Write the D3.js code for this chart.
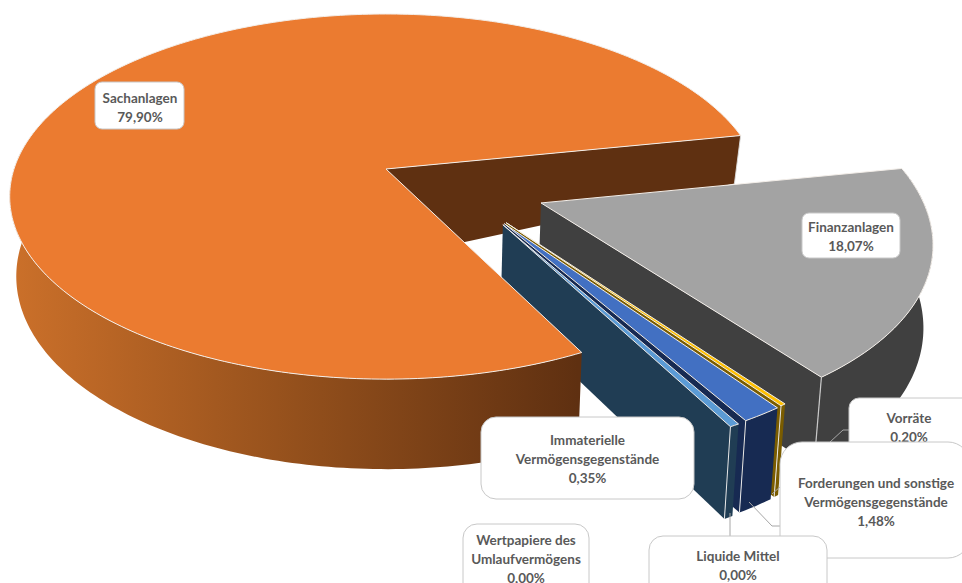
<!DOCTYPE html>
<html>
<head>
<meta charset="utf-8">
<script src="https://cdn.jsdelivr.net/npm/d3@7"></script>
<style>
  html, body { margin: 0; padding: 0; background: #fff; overflow: hidden; }
  svg { display: block; }
  text { font-family: Lato, "Open Sans", sans-serif; font-weight: 700; font-size: 13.5px; fill: #595959; text-anchor: middle; dominant-baseline: central; }
</style>
</head>
<body>
<svg id="chart" width="962" height="583"></svg>
<script>
// Chart data
const categories = ['Immaterielle Vermögensgegenstände', 'Sachanlagen', 'Finanzanlagen', 'Vorräte',
  'Forderungen und sonstige Vermögensgegenstände', 'Liquide Mittel', 'Wertpapiere des Umlaufvermögens'];
const shares = [0.35, 79.90, 18.07, 0.20, 1.48, 0.00, 0.00];
const topColors = ['#5B9BD5', '#EB7B30', '#A3A3A3', '#FFC000', '#4270C2', '#70AD47', '#264478'];
const sideColors = ['#203D54', '#5F3011', '#404040', '#7A5C00', '#172A52', '#38572A', '#13233C'];

// ── Perspective of the 3D pie ──────────────────────────────────────────────
const cx = 386, cy = 169;
const radiusX = 372, radiusY = 178.4, persp = 0.151, converge = 0.0175;
const padDeg = 0.3;
// how far each slice is pulled out of the pie, in pie radii
const sliceOffset = {
  'Sachanlagen': [0, 0],
  'Finanzanlagen': [0.405, 0.185],
  'Vorräte': [0.309, 0.288],
  'Forderungen und sonstige Vermögensgegenstände': [0.304, 0.293],
  'default': [0.30, 0.298],
};

const project = ([X, Y]) => {
  const w = 1 - persp * Y;
  return [cx + radiusX * X / w, cy + radiusY * Y / w];
};
// point on the bottom face, below a top face point
const drop = ([x, y], depth) => [x - converge * (x - cx), y + depth];
const depthAt = (Y) => 78 + 12 * Y;

const toRad = (deg) => deg * Math.PI / 180;
const pie = d3.pie().sort(null).value((d) => d)
  .padAngle(toRad(padDeg))
  .startAngle(toRad(151.2))
  .endAngle(toRad(151.2 + 360));

const svg = d3.select('#chart');
const line = d3.line();
const closed = (pts) => line(pts) + 'Z';

const gradient = svg.append('defs').append('linearGradient')
  .attr('id', 'sachWall').attr('gradientUnits', 'userSpaceOnUse')
  .attr('x1', 12).attr('x2', 578).attr('y1', 0).attr('y2', 0);
gradient.append('stop').attr('offset', 0).attr('stop-color', '#CB702A');
gradient.append('stop').attr('offset', 0.5).attr('stop-color', '#94501C');
gradient.append('stop').attr('offset', 1).attr('stop-color', '#5F3011');

const slices = pie(shares).map((arc, i) => {
  const offset = sliceOffset[categories[i]] || sliceOffset.default;
  const a0 = arc.startAngle + arc.padAngle / 2;
  const a1 = arc.endAngle - arc.padAngle / 2;
  return { i, name: categories[i], a0, a1, offset, top: topColors[i], side: sideColors[i] };
});

// d3.pie angle: 0 at the back, clockwise seen from above
const world = (s, angle) => [s.offset[0] + Math.sin(angle), s.offset[1] - Math.cos(angle)];
const rimPoints = (s, from, to) => {
  const n = Math.max(2, Math.ceil(Math.abs(to - from) / toRad(1)));
  return d3.range(n + 1).map((k) => world(s, from + (to - from) * k / n));
};
const onFloor = (p) => drop(project(p), depthAt(p[1]));

function drawInnerWall(s, angle, rimDepth, apexDepth) {
  const apex = project(s.offset);
  const rimW = world(s, angle);
  const rim = project(rimW);
  svg.append('path')
    .attr('d', closed([apex, rim, drop(rim, rimDepth ?? depthAt(rimW[1])), drop(apex, apexDepth ?? depthAt(s.offset[1]))]))
    .attr('fill', s.side);
}

function drawCorner(s, angle, rimDepth, color, width) {
  const rimW = world(s, angle);
  const rim = project(rimW);
  svg.append('path').attr('d', line([rim, drop(rim, rimDepth ?? depthAt(rimW[1]))]))
    .attr('stroke', color).attr('stroke-width', width).attr('fill', 'none');
}

function drawOuterWall(s, fill) {
  // only the front part of the rim shows a wall, angles may run past one turn
  const turn = s.a0 >= toRad(360) - toRad(1) ? toRad(360) : 0;
  const from = Math.max(s.a0, toRad(81) + turn);
  const to = Math.min(s.a1, toRad(278) + turn);
  const rim = rimPoints(s, from, to);
  svg.append('path')
    .attr('d', closed([...rim.map(project), ...rim.slice().reverse().map(onFloor)]))
    .attr('fill', fill);
}

function drawTop(s) {
  const pts = [s.offset, ...rimPoints(s, s.a0, s.a1)].map(project);
  svg.append('path').attr('d', closed(pts))
    .attr('fill', s.top).attr('stroke', '#f3eee9').attr('stroke-width', 1).attr('stroke-linejoin', 'round');
}

const sach = slices.find((s) => s.name === 'Sachanlagen');
const fin = slices.find((s) => s.name === 'Finanzanlagen');
const order = ['Vorräte', 'Forderungen und sonstige Vermögensgegenstände', 'Liquide Mittel',
  'Wertpapiere des Umlaufvermögens', 'Immaterielle Vermögensgegenstände'];

// ── Back to front ──────────────────────────────────────────────────────────
drawInnerWall(sach, sach.a1, 48, 90);
drawCorner(sach, sach.a1, 48, '#dcdcdc', 0.9);

drawOuterWall(fin, fin.side);
drawInnerWall(fin, fin.a1);
drawCorner(fin, fin.a1, undefined, '#c9c9c9', 1.2);
drawTop(fin);

order.forEach((name) => {
  const s = slices.find((d) => d.name === name);
  if (s.a1 - s.a0 < 1e-6) return;
  drawOuterWall(s, s.side);
  drawInnerWall(s, s.a1);
  drawCorner(s, s.a1, undefined, '#e8e8e8', 1);
  drawTop(s);
});

drawOuterWall(sach, 'url(#sachWall)');
drawTop(sach);

// ── Labels ─────────────────────────────────────────────────────────────────
const percent = (v) => v.toFixed(2).replace('.', ',') + '%';

const leaders = [
  [[830, 442], [843, 430], [849, 430]],
  [[772, 494], [780, 487]],
  [[749, 502], [772, 526], [780, 526]],
  [[730, 513], [730, 536]],
];
leaders.forEach((pts) => {
  svg.append('path').attr('d', line(pts)).attr('fill', 'none')
    .attr('stroke', '#a6a6a6').attr('stroke-width', 1);
});

const labelBoxes = [
  { name: 'Sachanlagen', lines: ['Sachanlagen'], x: 95, y: 82, w: 89, h: 47, r: 7, tx: 140, ty: 98 },
  { name: 'Finanzanlagen', lines: ['Finanzanlagen'], x: 802, y: 213, w: 98, h: 45, r: 7, tx: 851, ty: 227 },
  { name: 'Immaterielle Vermögensgegenstände', lines: ['Immaterielle', 'Vermögensgegenstände'], x: 481, y: 417, w: 213, h: 82, r: 15, tx: 587.5, ty: 440 },
  { name: 'Vorräte', lines: ['Vorräte'], x: 849, y: 398, w: 140, h: 70, r: 10, tx: 909, ty: 418 },
  { name: 'Forderungen und sonstige Vermögensgegenstände', lines: ['Forderungen und sonstige', 'Vermögensgegenstände'], x: 780, y: 442, w: 190, h: 116, r: 22, tx: 876, ty: 482.5 },
  { name: 'Wertpapiere des Umlaufvermögens', lines: ['Wertpapiere des', 'Umlaufvermögens'], x: 463, y: 524, w: 126, h: 80, r: 14, tx: 526, ty: 540 },
  { name: 'Liquide Mittel', lines: ['Liquide Mittel'], x: 649, y: 536, w: 178, h: 70, r: 14, tx: 738, ty: 556 },
];
const lineStep = 19.2;

labelBoxes.forEach((box) => {
  const g = svg.append('g');
  g.append('rect')
    .attr('x', box.x).attr('y', box.y).attr('width', box.w).attr('height', box.h)
    .attr('rx', box.r).attr('fill', '#fff').attr('stroke', '#c8c8c8').attr('stroke-width', 1);
  const value = shares[categories.indexOf(box.name)];
  [...box.lines, percent(value)].forEach((txt, k) => {
    g.append('text').attr('x', box.tx).attr('y', box.ty + k * lineStep).text(txt);
  });
});
</script>
</body>
</html>
